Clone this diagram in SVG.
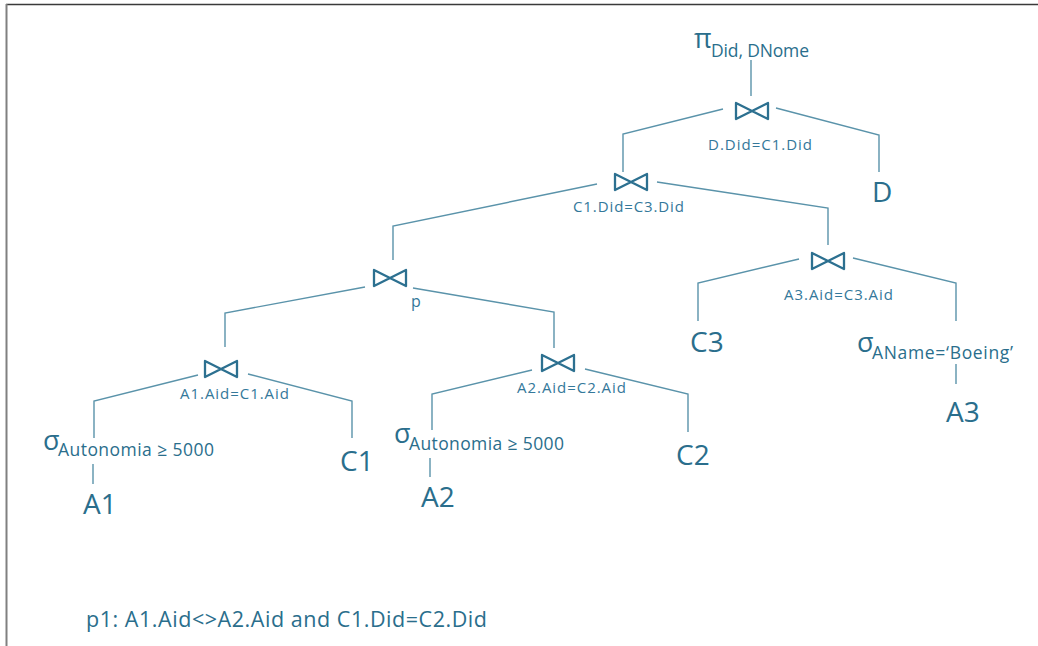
<svg xmlns="http://www.w3.org/2000/svg" xmlns:xlink="http://www.w3.org/1999/xlink" width="1038" height="646" viewBox="0 0 1038 646">
<style>
text{font-family:"Open Sans","Noto Sans","DejaVu Sans",sans-serif;fill:#2a6e8c}
.lbl{font-size:15px;fill:#34789a}
.big{font-size:28px}
.greek{font-size:27px}
.sub{font-size:17.5px}
.foot{font-size:21.5px}
.conn polyline,.conn line{fill:none;stroke:#5a93aa;stroke-width:1.4}
.bow{fill:none;stroke:#2c7090;stroke-width:2.3;stroke-linejoin:round}
</style>
<defs>
<path id="bowtie" class="bow" d="M-16,-8 L16,8 L16,-8 L-16,8 Z"/>
</defs>
<rect width="1038" height="646" fill="#fff"/>
<line x1="6" y1="4.5" x2="1038" y2="4.5" stroke="#3a3a3a" stroke-width="1.5"/>
<line x1="6.5" y1="4" x2="6.5" y2="646" stroke="#808080" stroke-width="2"/>

<g class="conn">
<line x1="751" y1="60" x2="751" y2="96"/>
<polyline points="723,109 623,134 623,172"/>
<polyline points="776,108 879,135 879,172"/>
<polyline points="597,184 393,226 393,260"/>
<polyline points="657,182 828,208 828,245"/>
<polyline points="365,287 225,313 225,347"/>
<polyline points="413,288 554,312 554,348"/>
<polyline points="198,375 94,401 94,438"/>
<polyline points="248,374 352,401 352,438"/>
<line x1="93" y1="464" x2="93" y2="484"/>
<polyline points="532,370 432,394 432,430"/>
<polyline points="585,369 688,394 688,432"/>
<line x1="430" y1="458" x2="430" y2="477"/>
<polyline points="799,259 698,283 698,321"/>
<polyline points="853,258 956,283 956,321"/>
<line x1="956" y1="364" x2="956" y2="384"/>
</g>

<g id="proj">
<text class="greek" x="694" y="48">π</text>
<text class="sub" x="711" y="57" textLength="98">Did, DNome</text>
</g>

<g id="join1">
<use xlink:href="#bowtie" x="752" y="111"/>
<text class="lbl" x="708" y="150" textLength="104">D.Did=C1.Did</text>
</g>
<g id="D"><text class="big" x="872" y="202">D</text></g>

<g id="join2">
<use xlink:href="#bowtie" x="631" y="182"/>
<text class="lbl" x="573" y="212" textLength="111">C1.Did=C3.Did</text>
</g>

<g id="join3">
<use xlink:href="#bowtie" x="390" y="278"/>
<text class="lbl" x="411" y="307" style="font-size:16px">p</text>
</g>

<g id="join6">
<use xlink:href="#bowtie" x="828" y="261"/>
<text class="lbl" x="784" y="300" textLength="109">A3.Aid=C3.Aid</text>
</g>
<g id="C3"><text class="big" x="690" y="352">C3</text></g>
<g id="sel3">
<text class="greek" x="857" y="352">σ</text>
<text class="sub" x="872" y="359" textLength="141">AName=‘Boeing’</text>
</g>
<g id="A3"><text class="big" x="946" y="422">A3</text></g>

<g id="join4">
<use xlink:href="#bowtie" x="221" y="369"/>
<text class="lbl" x="180" y="399" textLength="109">A1.Aid=C1.Aid</text>
</g>
<g id="sel1">
<text class="greek" x="43" y="450">σ</text>
<text class="sub" x="58" y="456" textLength="156">Autonomia ≥ 5000</text>
</g>
<g id="A1"><text class="big" x="83" y="514">A1</text></g>
<g id="C1"><text class="big" x="340" y="471">C1</text></g>

<g id="join5">
<use xlink:href="#bowtie" x="558" y="363"/>
<text class="lbl" x="517" y="393" textLength="109">A2.Aid=C2.Aid</text>
</g>
<g id="sel2">
<text class="greek" x="394" y="443">σ</text>
<text class="sub" x="409" y="450" textLength="155">Autonomia ≥ 5000</text>
</g>
<g id="A2"><text class="big" x="421" y="507">A2</text></g>
<g id="C2"><text class="big" x="676" y="465">C2</text></g>

<g id="footer">
<text class="foot" x="86" y="627" textLength="401">p1: A1.Aid&lt;&gt;A2.Aid and C1.Did=C2.Did</text>
</g>
</svg>
